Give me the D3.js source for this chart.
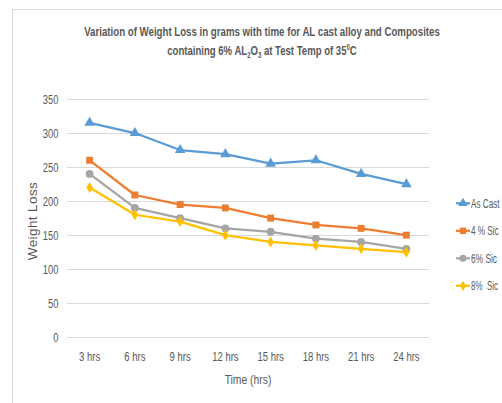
<!DOCTYPE html>
<html><head><meta charset="utf-8">
<script src="https://cdn.jsdelivr.net/npm/d3@7"></script>
<style>
body{margin:0;background:#fff;}
text{font-family:"Liberation Sans",Arial,sans-serif;fill:#595959;}
</style></head>
<body><svg id="c" width="502" height="403"></svg>
<script>
const categories=["3 hrs","6 hrs","9 hrs","12 hrs","15 hrs","18 hrs","21 hrs","24 hrs"];
const asCast=[315,300,275,269,255,260,240,225];
const sic4=[260,209,195,190,175,165,160,150];
const sic6=[240,190,175,160,155,145,140,130];
const sic8=[220,180,170,150,140,135,130,125];
const yTicks=[0,50,100,150,200,250,300,350];
const seriesNames=["As Cast","4 % Sic","6% Sic","8%  Sic"];
const colors=["#5B9BD5","#ED7D31","#A5A5A5","#FFC000"];
const symbols=[d3.symbolTriangle,d3.symbolSquare,d3.symbolCircle,d3.symbolDiamond];
const series=[asCast,sic4,sic6,sic8];

function condense(sel,f){
  sel.each(function(){
    const w=this.getComputedTextLength();
    d3.select(this).attr("textLength",w*f).attr("lengthAdjust","spacingAndGlyphs");
  });
}

const svg=d3.select("#c");
svg.append("rect").attr("x",12.5).attr("y",9.5).attr("width",520).attr("height",420)
  .attr("fill","none").attr("stroke","#d9d9d9").attr("stroke-width",1);

const x=d3.scaleBand().domain(categories).range([67,429]);
const y=d3.scaleLinear().domain([0,350]).range([337.3,99]);

svg.append("g").selectAll("line").data(yTicks).join("line")
  .attr("x1",67).attr("x2",429).attr("y1",d=>Math.round(y(d))+0.5).attr("y2",d=>Math.round(y(d))+0.5)
  .attr("stroke","#d9d9d9").attr("stroke-width",1);

const yAxis=svg.append("g").attr("transform","translate(67,0)")
  .call(d3.axisLeft(y).tickValues(yTicks).tickSize(0).tickPadding(8.5));
yAxis.select(".domain").remove();
yAxis.selectAll("text").attr("font-size",12.5).style("font-family",null).attr("fill",null);
condense(yAxis.selectAll("text"),0.75);

const xAxis=svg.append("g").attr("transform","translate(0,337)")
  .call(d3.axisBottom(x).tickSize(0).tickPadding(15));
xAxis.select(".domain").remove();
xAxis.selectAll("text").attr("font-size",12.5).style("font-family",null).attr("fill",null);
condense(xAxis.selectAll("text"),0.76);

const line=d3.line().x((d,i)=>x(categories[i])+x.bandwidth()/2).y(d=>y(d));
series.forEach((s,k)=>{
  svg.append("path").datum(s).attr("d",line).attr("fill","none")
    .attr("stroke",colors[k]).attr("stroke-width",2.25).attr("stroke-linejoin","round");
  svg.append("g").selectAll("path").data(s).join("path")
    .attr("transform",(d,i)=>`translate(${x(categories[i])+x.bandwidth()/2},${y(d)})`)
    .attr("d",d3.symbol().type(symbols[k]).size(k===3?36:48))
    .attr("fill",colors[k]);
});

const legendY=[203.3,230.8,258.3,285.8];
const legendW=[28.5,27.5,26,27];
seriesNames.forEach((n,k)=>{
  const g=svg.append("g").attr("transform",`translate(456,${legendY[k]})`);
  g.append("line").attr("x1",0).attr("x2",14).attr("stroke",colors[k]).attr("stroke-width",2.25);
  g.append("path").attr("transform","translate(7,0)").attr("d",d3.symbol().type(symbols[k]).size(k===3?30:40)).attr("fill",colors[k]);
  const tg=g.append("g");
  const t=tg.append("text").attr("x",0).attr("y",4.3).attr("font-size",12).style("white-space","pre").text(n);
  const w=t.node().getComputedTextLength();
  tg.attr("transform",`translate(15,0) scale(${legendW[k]/w},1)`);
});

const xt=svg.append("text").attr("x",248).attr("y",384).attr("text-anchor","middle").attr("font-size",13).text("Time (hrs)");
xt.attr("textLength",46.7).attr("lengthAdjust","spacingAndGlyphs");
svg.append("text").attr("transform","translate(36.5,221) rotate(-90)").attr("text-anchor","middle")
  .attr("font-size",13.5).attr("letter-spacing",0.4).text("Weight Loss");

function titleLine(yy,target,build){
  const g=svg.append("g");
  const t=g.append("text").attr("x",0).attr("y",0).attr("text-anchor","middle").attr("font-size",13.5).attr("font-weight","bold");
  build(t);
  const w=t.node().getBBox().width;
  g.attr("transform",`translate(262,${yy}) scale(${target/w},1)`);
}
titleLine(35.5,356,t=>t.text("Variation of Weight Loss in grams with time for AL cast alloy and Composites"));
titleLine(54.5,190,t=>{
  t.append("tspan").text("containing 6% AL");
  t.append("tspan").attr("font-size",8.5).attr("dy",3).text("2");
  t.append("tspan").attr("dy",-3).text("O");
  t.append("tspan").attr("font-size",8.5).attr("dy",3).text("3");
  t.append("tspan").attr("dy",-3).text(" at Test Temp of 35");
  t.append("tspan").attr("font-size",8.5).attr("dy",-5).text("0");
  t.append("tspan").attr("dy",5).text("C");
});
</script></body></html>
